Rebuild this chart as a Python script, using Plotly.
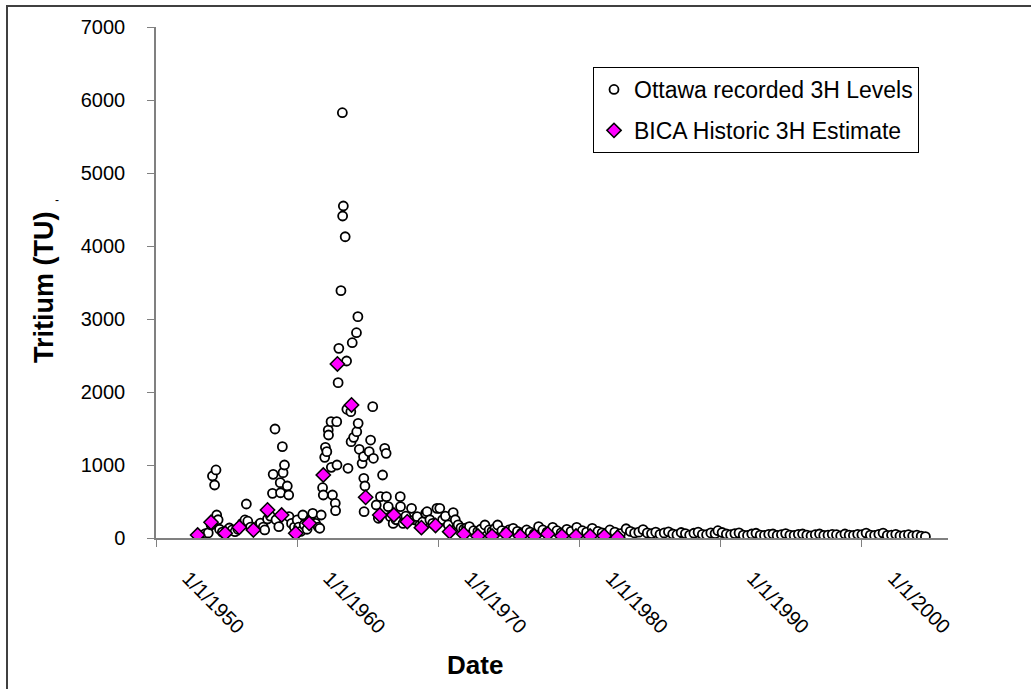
import plotly.graph_objects as go

# Ottawa precipitation tritium record (decimal year, TU)
ottawa_year = [
    1953.3, 1953.5, 1953.7, 1953.9,
    1954.0, 1954.15, 1954.25, 1954.3, 1954.4, 1954.5, 1954.7, 1954.9,
    1955.1, 1955.2, 1955.4, 1955.6, 1955.8, 1955.95,
    1956.1, 1956.3, 1956.4, 1956.5, 1956.7, 1956.9,
    1957.1, 1957.3, 1957.4, 1957.6, 1957.7, 1957.9,
    1958.1, 1958.25, 1958.3, 1958.43, 1958.5, 1958.7, 1958.8, 1958.82, 1958.95,
    1959.0, 1959.1, 1959.3, 1959.4, 1959.42, 1959.6, 1959.8,
    1960.0, 1960.1, 1960.25, 1960.4, 1960.5, 1960.7, 1960.9,
    1961.1, 1961.3, 1961.5, 1961.6, 1961.7, 1961.8, 1961.85, 1961.95,
    1962.0, 1962.1, 1962.2, 1962.22, 1962.4, 1962.42, 1962.5, 1962.7, 1962.72,
    1962.8, 1962.82, 1962.9, 1962.95,
    1963.1, 1963.2, 1963.22, 1963.27, 1963.4, 1963.5, 1963.52, 1963.6,
    1963.8, 1963.82, 1963.9,
    1964.0, 1964.2, 1964.22, 1964.3, 1964.32, 1964.4, 1964.6, 1964.7, 1964.72,
    1964.74, 1964.8,
    1965.1, 1965.2, 1965.35, 1965.4, 1965.6, 1965.75, 1965.9,
    1966.05, 1966.2, 1966.3, 1966.32, 1966.45, 1966.6, 1966.8,
    1967.0, 1967.3, 1967.32, 1967.5, 1967.7,
    1968.1, 1968.3, 1968.5, 1968.7, 1968.9,
    1969.1, 1969.2, 1969.4, 1969.6, 1969.9,
    1970.1, 1970.3, 1970.5, 1970.7,
    1971.05, 1971.2, 1971.4, 1971.6, 1971.8,
    1972.0, 1972.2, 1972.5, 1972.8,
    1973.0, 1973.3, 1973.6, 1973.8,
    1974.0, 1974.2, 1974.5, 1974.8,
    1975.0, 1975.3, 1975.6, 1975.9,
    1976.25, 1976.5, 1976.8,
    1977.1, 1977.4, 1977.7,
    1978.1, 1978.4, 1978.7,
    1979.1, 1979.4, 1979.8,
    1980.2, 1980.5, 1980.9,
    1981.3, 1981.6,
    1982.15, 1982.5, 1982.9,
    1983.3, 1983.6, 1983.9,
    1984.2, 1984.5, 1984.8,
    1985.1, 1985.4, 1985.7,
    1986.0, 1986.3, 1986.6, 1986.9,
    1987.2, 1987.5, 1987.8,
    1988.1, 1988.4, 1988.7,
    1989.0, 1989.3, 1989.6, 1989.8,
    1990.1, 1990.4, 1990.7,
    1991.0, 1991.3, 1991.6, 1991.9,
    1992.2, 1992.5, 1992.8,
    1993.1, 1993.4, 1993.7,
    1994.0, 1994.3, 1994.6, 1994.9,
    1995.2, 1995.5, 1995.8,
    1996.1, 1996.4, 1996.7,
    1997.0, 1997.3, 1997.6, 1997.9,
    1998.2, 1998.5, 1998.8,
    1999.1, 1999.4, 1999.7,
    2000.0, 2000.3, 2000.6, 2000.9,
    2001.2, 2001.5, 2001.8,
    2002.1, 2002.4, 2002.7,
    2003.0, 2003.3, 2003.6, 2003.9, 2004.2, 2004.5,
]
ottawa_tu = [
    40, 60, 70, 180,
    849, 726, 932, 315, 250, 120, 80, 60,
    90, 137, 110, 86, 120, 160,
    200, 247, 466, 230, 150, 120,
    140, 180, 205, 150, 110, 260,
    300, 612, 872, 1493, 250, 155, 758, 620, 1251,
    895, 1000, 712, 589, 292, 200, 150,
    247, 150, 90, 315, 180, 120, 250,
    338, 200, 150, 133, 315, 689, 589, 1105,
    1242, 1183, 1479, 1411, 1594, 968, 589, 475, 374,
    1594, 1000, 2128, 2598,
    3388, 5826, 4411, 4548, 4127, 2425, 1763, 955,
    1730, 1319, 2675,
    1379, 2812, 1456, 3032, 1571, 1215, 1023, 1114, 818,
    360, 712,
    1183, 1342, 1799, 1092, 452, 270, 566,
    863, 1228, 1160, 566, 429, 292, 200,
    250, 566, 429, 201, 300,
    406, 250, 292, 180, 220,
    338, 360, 250, 200, 406,
    406, 250, 300, 180,
    347, 250, 180, 140, 120,
    140, 155, 100, 90,
    120, 178, 110, 90,
    130, 178, 100, 80,
    110, 133, 90, 70,
    110, 80, 60,
    155, 110, 80,
    146, 100, 70,
    119, 90, 146,
    100, 80, 133,
    90, 70,
    110, 80, 60,
    127, 90, 70,
    80, 114, 70,
    60, 80, 50,
    70, 85, 55, 45,
    75, 60, 40,
    65, 80, 50,
    45, 70, 60, 100,
    75, 55, 45,
    60, 70, 40, 35,
    55, 65, 40,
    35, 50, 55,
    35, 45, 60, 40,
    35, 50, 55,
    40, 30, 45,
    55, 35, 40, 50,
    45, 30, 55,
    40, 35, 50,
    45, 68, 40, 35,
    50, 68, 35,
    40, 50, 30,
    35, 45, 30, 40, 25, 20,
]

# BICA annual historic tritium estimate (decimal year, TU)
bica_year = [
    1952.95, 1953.9, 1954.9, 1955.9, 1956.9, 1957.9, 1958.9, 1959.9,
    1960.85, 1961.85, 1962.85, 1963.85, 1964.85, 1965.85, 1966.85,
    1967.8, 1968.8, 1969.8, 1970.8, 1971.8, 1972.8, 1973.8, 1974.8,
    1975.8, 1976.8, 1977.75, 1978.75, 1979.75, 1980.75, 1981.75, 1982.7,
]
bica_tu = [
    41, 215, 64, 146, 110, 384, 315, 64,
    201, 863, 2384, 1822, 557, 315, 315,
    224, 142, 172, 87, 55, 27, 27, 55,
    27, 27, 55, 27, 27, 27, 27, 10,
]

tick_years = [1950, 1960, 1970, 1980, 1990, 2000]
tick_text = ["1/1/1950", "1/1/1960", "1/1/1970", "1/1/1980", "1/1/1990", "1/1/2000"]

AXIS_GREY = "#808080"
FONT = "Liberation Sans, Arial, sans-serif"

fig = go.Figure()

fig.add_trace(go.Scatter(
    x=ottawa_year, y=ottawa_tu, mode="markers",
    name="Ottawa recorded 3H Levels", legendgroup="ottawa",
    marker=dict(symbol="circle", size=9, color="white",
                line=dict(color="black", width=1.8)),
))
fig.add_trace(go.Scatter(
    x=bica_year, y=bica_tu, mode="markers",
    name="BICA Historic 3H Estimate", legendgroup="bica",
    marker=dict(symbol="diamond", size=11, color="#FF00FF",
                line=dict(color="black", width=1.5)),
))

# plot area spans x 156..948 px and y 27..538 px
L, R, T, B = 156, 948, 27, 538
W, H = 1031, 689
pw, ph = R - L, B - T


def px_x(px):
    return (px - L) / pw


def px_y(py):
    return (B - py) / ph


fig.update_layout(
    width=W, height=H,
    margin=dict(l=L, r=W - R, t=T, b=H - B, autoexpand=False),
    paper_bgcolor="white", plot_bgcolor="white",
    font=dict(family=FONT, color="black", size=20),
    showlegend=True,
    legend=dict(
        x=px_x(593), y=px_y(67), xanchor="left", yanchor="top",
        bgcolor="white", bordercolor="black", borderwidth=1,
        font=dict(size=23, family=FONT), tracegroupgap=8,
        itemsizing="trace",
    ),
    xaxis=dict(
        range=[1950, 2006.1], tickmode="array",
        tickvals=tick_years, ticktext=tick_text,
        tickangle=45, ticks="outside", ticklen=7, tickcolor=AXIS_GREY,
        showline=True, linecolor=AXIS_GREY, linewidth=1.5,
        showgrid=False, zeroline=False,
        tickfont=dict(size=20, family=FONT),
        ticklabelshift=32, ticklabelstandoff=12,
    ),
    yaxis=dict(
        range=[0, 7000], dtick=1000, tick0=0,
        ticks="outside", ticklen=7, tickcolor=AXIS_GREY,
        showline=True, linecolor=AXIS_GREY, linewidth=1.5,
        showgrid=False, zeroline=False,
        tickfont=dict(size=20, family=FONT),
        ticklabelstandoff=18,
    ),
)

# axis titles
fig.add_annotation(
    text="<b>Tritium (TU)</b>", textangle=-90,
    xref="paper", yref="paper", x=px_x(44), y=px_y(288),
    xanchor="center", yanchor="middle", showarrow=False,
    font=dict(size=27, family=FONT),
)
fig.add_annotation(
    text="<b>Date</b>",
    xref="paper", yref="paper", x=px_x(475), y=px_y(665),
    xanchor="center", yanchor="middle", showarrow=False,
    font=dict(size=26, family=FONT),
)
fig.add_annotation(
    text="-", xref="paper", yref="paper", x=px_x(57), y=px_y(200),
    xanchor="center", yanchor="middle", showarrow=False,
    font=dict(size=12, family=FONT),
)

# chart frame (top and left edges fall inside the canvas)
fig.add_shape(
    type="rect", xref="paper", yref="paper",
    x0=px_x(7), x1=px_x(W + 20), y0=px_y(H + 20), y1=px_y(6),
    line=dict(color="#404040", width=2), fillcolor="rgba(0,0,0,0)",
    layer="below",
)

fig.write_html("out.html")
